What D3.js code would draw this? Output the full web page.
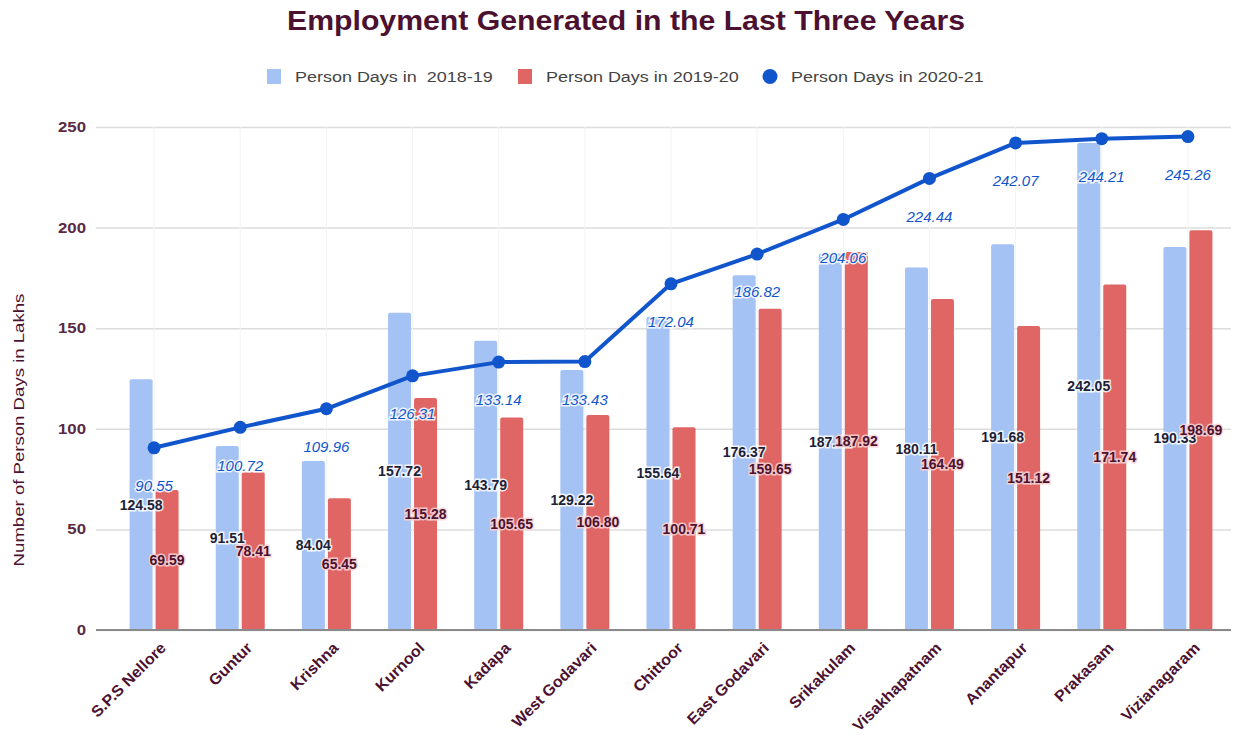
<!DOCTYPE html>
<html>
<head>
<meta charset="utf-8">
<script src="https://cdn.jsdelivr.net/npm/d3@7"></script>
<style>
  body { margin: 0; background: #fff; }
  text { font-family: "Liberation Sans", Arial, sans-serif; }
</style>
</head>
<body>
<svg id="chart"></svg>
<script>
// districts
const districts = ["S.P.S Nellore", "Guntur", "Krishna", "Kurnool", "Kadapa", "West Godavari",
    "Chittoor", "East Godavari", "Srikakulam", "Visakhapatnam", "Anantapur", "Prakasam", "Vizianagaram"];
// person days in lakhs
const days1819 = [124.58, 91.51, 84.04, 157.72, 143.79, 129.22, 155.64, 176.37, 187.12, 180.11, 191.68, 242.05, 190.33];
const days1920 = [69.59, 78.41, 65.45, 115.28, 105.65, 106.80, 100.71, 159.65, 187.92, 164.49, 151.12, 171.74, 198.69];
const days2021 = [90.55, 100.72, 109.96, 126.31, 133.14, 133.43, 172.04, 186.82, 204.06, 224.44, 242.07, 244.21, 245.26];
const yTicks = [0, 50, 100, 150, 200, 250];
const seriesNames = ["Person Days in  2018-19", "Person Days in 2019-20", "Person Days in 2020-21"];

const svgWidth = 1242, svgHeight = 743;
const colors = {blue: "#a4c2f4", red: "#e06666", line: "#1155cc", maroon: "#4c1130"};
// the original text renders a bit wider than Arial
const wide = 1.16;

const chart = d3.select("#chart")
    .attr("width", svgWidth)
    .attr("height", svgHeight);

// scales
var xScale = d3.scaleBand().domain(districts).range([111, 1231]);
var yScale = d3.scaleLinear().domain([0, 250]).range([630, 127]);
var barW = 23, barGap = 3;

// title
chart.append("text")
    .attr("transform", "translate(626,30) scale(1.08,1)")
    .attr("text-anchor", "middle")
    .attr("font-size", 28).attr("font-weight", "bold")
    .attr("fill", colors.maroon)
    .text("Employment Generated in the Last Three Years");

// legend
const legend = [
    {x: 267, kind: "rect", color: colors.blue},
    {x: 518, kind: "rect", color: colors.red},
    {x: 763, kind: "circle", color: colors.line}
];
legend.forEach(function(l, i) {
    if (l.kind == "rect") {
        chart.append("rect").attr("x", l.x).attr("y", 69).attr("width", 14).attr("height", 15).attr("fill", l.color);
    } else {
        chart.append("circle").attr("cx", l.x + 7).attr("cy", 76.5).attr("r", 7.5).attr("fill", l.color);
    }
    chart.append("text")
        .attr("transform", "translate(" + (l.x + 28) + ",82) scale(" + wide + ",1)")
        .attr("font-size", 15.5).attr("fill", "#444")
        .style("white-space", "pre")
        .text(seriesNames[i]);
});

// grid
var yAxis = d3.axisLeft(yScale).tickValues(yTicks).tickSize(-(1231 - 96)).tickFormat("");
var gy = chart.append("g").attr("transform", "translate(96,0)").call(yAxis);
gy.select(".domain").remove();
gy.selectAll(".tick line").attr("stroke", "#dcdcdc").attr("stroke-width", 1.5);
// tick labels
chart.append("g").selectAll("text").data(yTicks).join("text")
    .attr("transform", d => "translate(86," + yScale(d) + ") scale(" + wide + ",1)")
    .attr("dy", "0.35em")
    .attr("text-anchor", "end")
    .attr("font-size", 14.5).attr("font-weight", "bold")
    .attr("fill", "#5a2a42")
    .text(d => d);

// faint vertical lines at category centres
chart.append("g").selectAll("line").data(districts).join("line")
    .attr("x1", d => xScale(d) + xScale.bandwidth() / 2)
    .attr("x2", d => xScale(d) + xScale.bandwidth() / 2)
    .attr("y1", yScale(250)).attr("y2", yScale(0))
    .attr("stroke", "#f3f3f3").attr("stroke-width", 1);

// y axis title
chart.append("text")
    .attr("transform", "translate(24,430) rotate(-90) scale(1.2,1)")
    .attr("text-anchor", "middle")
    .attr("font-size", 15.5).attr("fill", colors.maroon)
    .text("Number of Person Days in Lakhs");

// bars
function cx(i) { return xScale(districts[i]) + xScale.bandwidth() / 2; }
var bars = chart.append("g");
bars.selectAll("rect.b1").data(days1819).join("rect")
    .attr("class", "b1")
    .attr("x", (d, i) => cx(i) - barGap / 2 - barW)
    .attr("y", d => yScale(d))
    .attr("width", barW)
    .attr("height", d => yScale(0) - yScale(d))
    .attr("rx", 2)
    .attr("fill", colors.blue);
bars.selectAll("rect.b2").data(days1920).join("rect")
    .attr("class", "b2")
    .attr("x", (d, i) => cx(i) + barGap / 2)
    .attr("y", d => yScale(d))
    .attr("width", barW)
    .attr("height", d => yScale(0) - yScale(d))
    .attr("rx", 2)
    .attr("fill", colors.red);

// baseline
chart.append("line")
    .attr("x1", 96).attr("x2", 1231)
    .attr("y1", yScale(0)).attr("y2", yScale(0))
    .attr("stroke", "#8a8a8a").attr("stroke-width", 2);

// line series
var valueline = d3.line()
    .x((d, i) => cx(i))
    .y(d => yScale(d));
chart.append("path")
    .datum(days2021)
    .attr("d", valueline)
    .attr("fill", "none")
    .attr("stroke", colors.line)
    .attr("stroke-width", 4)
    .attr("stroke-linejoin", "round");
chart.append("g").selectAll("circle").data(days2021).join("circle")
    .attr("cx", (d, i) => cx(i))
    .attr("cy", d => yScale(d))
    .attr("r", 6.5)
    .attr("fill", colors.line);

// bar labels, centred in the bar
var fmt = d3.format(".2f");
var labels = chart.append("g").attr("font-size", 14);
labels.selectAll("text.l1").data(days1819).join("text")
    .attr("class", "l1")
    .attr("x", (d, i) => cx(i) - barGap / 2 - barW / 2)
    .attr("y", d => yScale(d / 2))
    .attr("dy", "0.35em")
    .attr("text-anchor", "middle")
    .attr("font-weight", "bold")
    .attr("fill", "#1b2238")
    .attr("stroke", "#ffffff").attr("stroke-width", 3).attr("stroke-opacity", 0.85)
    .attr("paint-order", "stroke")
    .text(d => fmt(d));
labels.selectAll("text.l2").data(days1920).join("text")
    .attr("class", "l2")
    .attr("x", (d, i) => cx(i) + barGap / 2 + barW / 2)
    .attr("y", d => yScale(d / 2))
    .attr("dy", "0.35em")
    .attr("text-anchor", "middle")
    .attr("font-weight", "bold")
    .attr("fill", "#4c1130")
    .attr("stroke", "#f7d2d2").attr("stroke-width", 3).attr("stroke-opacity", 0.9)
    .attr("paint-order", "stroke")
    .text(d => fmt(d));
// line labels, below the points
labels.selectAll("text.l3").data(days2021).join("text")
    .attr("class", "l3")
    .attr("x", (d, i) => cx(i))
    .attr("y", d => yScale(d) + 38)
    .attr("dy", "0.35em")
    .attr("text-anchor", "middle")
    .attr("font-style", "italic")
    .attr("font-size", 15)
    .attr("fill", colors.line)
    .attr("stroke", "#ffffff").attr("stroke-width", 3).attr("stroke-opacity", 0.85)
    .attr("paint-order", "stroke")
    .text(d => fmt(d));

// x labels
chart.append("g").selectAll("text").data(districts).join("text")
    .attr("transform", (d, i) => "translate(" + (cx(i) + 9) + ",645) rotate(-45) scale(1.04,1)")
    .attr("text-anchor", "end")
    .attr("dy", "0.35em")
    .attr("font-size", 15.5).attr("font-weight", "bold")
    .attr("fill", colors.maroon)
    .text(d => d);
</script>
</body>
</html>
